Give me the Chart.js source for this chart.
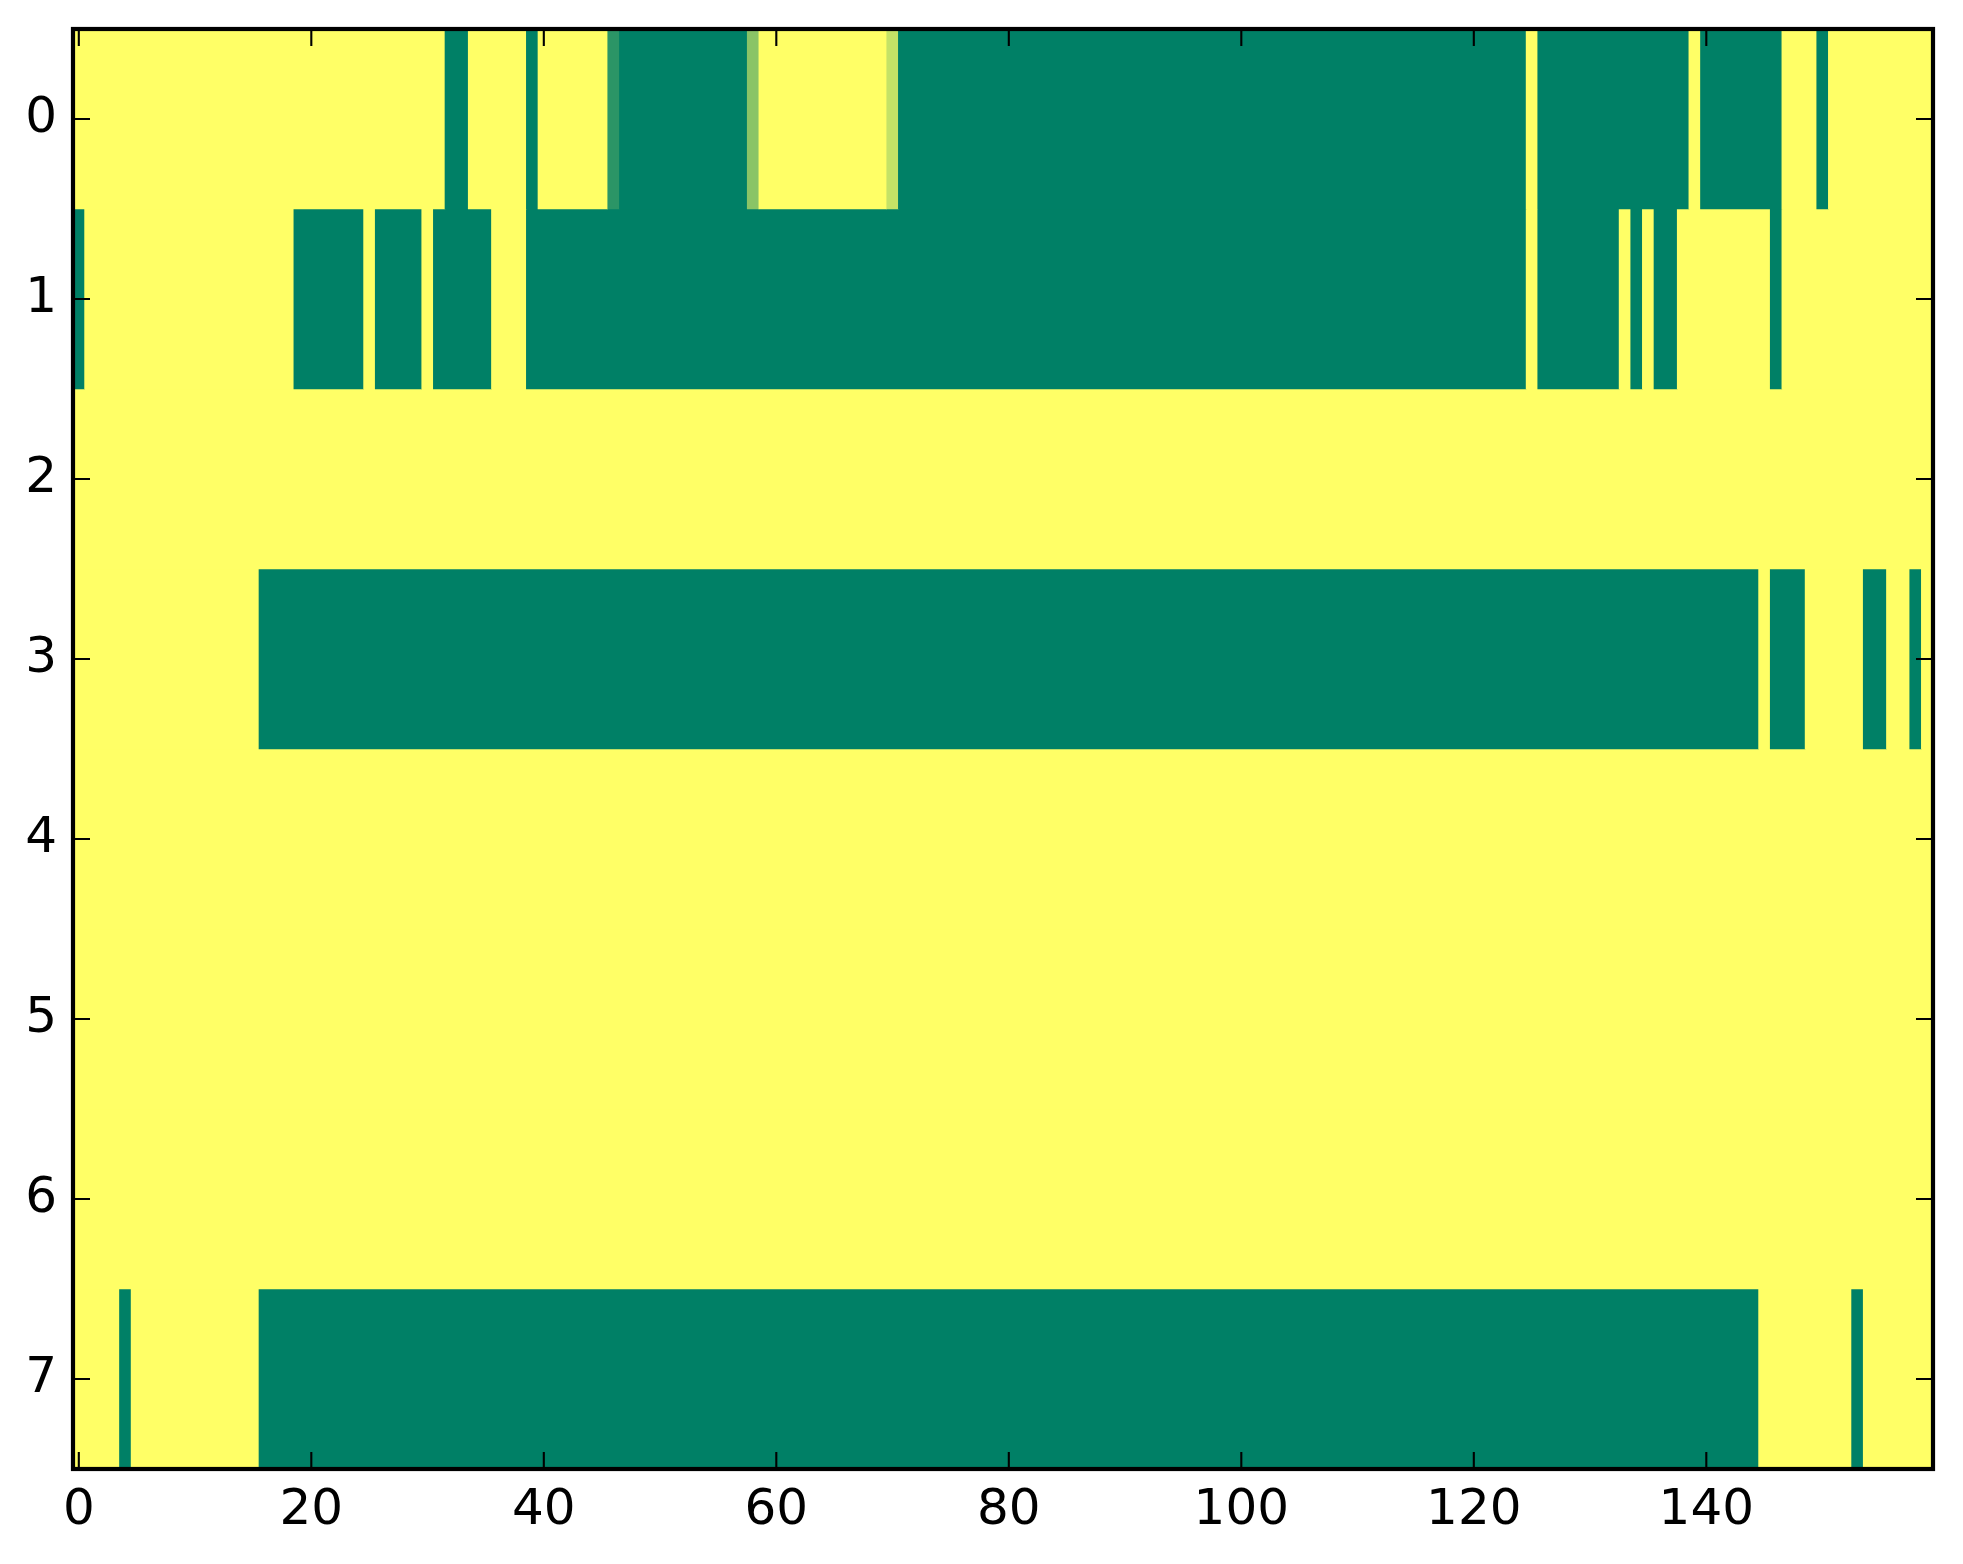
<!DOCTYPE html>
<html>
<head>
<meta charset="utf-8">
<script src="https://cdn.jsdelivr.net/npm/chart.js@4/dist/chart.umd.min.js"></script>
<style>
  body { margin: 0; background: #fff; }
  #wrap { width: 1963px; height: 1564px; position: relative; }
</style>
</head>
<body>
<div id="wrap"><canvas id="heat"></canvas></div>
<script>
// rows of the image, top to bottom
const rowLabels = ['0', '1', '2', '3', '4', '5', '6', '7'];
const xTicks = [0, 20, 40, 60, 80, 100, 120, 140];

// each row as runs: [first column, last column, value]
const row0 = [[0, 31, 1], [32, 33, 0], [34, 38, 1], [39, 39, 0], [40, 45, 1], [46, 46, 0.17],
    [47, 57, 0], [58, 58, 0.54], [59, 69, 1], [70, 70, 0.77], [71, 124, 0], [125, 125, 1],
    [126, 138, 0], [139, 139, 1], [140, 146, 0], [147, 149, 1], [150, 150, 0], [151, 159, 1]];
const row1 = [[0, 0, 0], [1, 18, 1], [19, 24, 0], [25, 25, 1], [26, 29, 0], [30, 30, 1],
    [31, 35, 0], [36, 38, 1], [39, 124, 0], [125, 125, 1], [126, 132, 0], [133, 133, 1],
    [134, 134, 0], [135, 135, 1], [136, 137, 0], [138, 145, 1], [146, 146, 0], [147, 159, 1]];
const row2 = [[0, 159, 1]];
const row3 = [[0, 15, 1], [16, 144, 0], [145, 145, 1], [146, 148, 0], [149, 153, 1],
    [154, 155, 0], [156, 157, 1], [158, 158, 0], [159, 159, 1]];
const row4 = [[0, 159, 1]];
const row5 = [[0, 159, 1]];
const row6 = [[0, 159, 1]];
const row7 = [[0, 3, 1], [4, 4, 0], [5, 15, 1], [16, 144, 0], [145, 152, 1], [153, 153, 0], [154, 159, 1]];

const rows = [row0, row1, row2, row3, row4, row5, row6, row7];

// matplotlib "summer" colormap
function summer(v) {
    return `rgb(${Math.round(v * 255)}, ${Math.round((0.5 + 0.5 * v) * 255)}, 102)`;
}

const datasets = rows.map((runs, i) => ({
    data: runs.map(r => ({ x: [r[0] - 0.5, r[1] + 0.5], y: rowLabels[i] })),
    backgroundColor: runs.map(r => summer(r[2])),
    borderWidth: 0,
    borderSkipped: false,
    grouped: false,
    barPercentage: 1,
    categoryPercentage: 1
}));

const font = { family: 'DejaVu Sans', size: 50 };

// inward ticks on all four sides plus the axes frame
const framePlugin = {
    id: 'frame',
    beforeDatasetsDraw(chart) {
        const { ctx, chartArea: a } = chart;
        ctx.save();
        ctx.fillStyle = summer(1);
        ctx.fillRect(a.left, a.top, a.width, a.height);
        ctx.restore();
    },
    afterDraw(chart) {
        const { ctx, chartArea: a, scales } = chart;
        const len = 17;
        ctx.save();
        ctx.strokeStyle = '#000';
        ctx.lineWidth = 2.1;
        ctx.beginPath();
        xTicks.forEach(v => {
            const px = scales.x.getPixelForValue(v);
            ctx.moveTo(px, a.bottom); ctx.lineTo(px, a.bottom - len);
            ctx.moveTo(px, a.top); ctx.lineTo(px, a.top + len);
        });
        rowLabels.forEach((lab, i) => {
            const py = scales.y.getPixelForTick(i);
            ctx.moveTo(a.left, py); ctx.lineTo(a.left + len, py);
            ctx.moveTo(a.right, py); ctx.lineTo(a.right - len, py);
        });
        ctx.stroke();
        ctx.lineWidth = 4.2;
        ctx.strokeRect(a.left, a.top, a.width, a.height);
        ctx.restore();
    }
};

new Chart(document.getElementById('heat'), {
    type: 'bar',
    data: { labels: rowLabels, datasets: datasets },
    options: {
        indexAxis: 'y',
        responsive: true,
        maintainAspectRatio: false,
        devicePixelRatio: 1,
        animation: false,
        layout: { padding: { top: 29, right: 30, left: 0, bottom: 0 } },
        plugins: { legend: { display: false }, tooltip: { enabled: false } },
        scales: {
            x: {
                type: 'linear',
                min: -0.5,
                max: 159.5,
                afterBuildTicks: s => { s.ticks = xTicks.map(v => ({ value: v })); },
                afterFit: s => { s.height = 95; s.paddingLeft = 0; s.paddingRight = 0; },
                grid: { display: false, drawTicks: false },
                border: { display: false },
                ticks: { font: font, color: '#000', padding: 12, maxRotation: 0, autoSkip: false }
            },
            y: {
                type: 'category',
                offset: true,
                afterFit: s => { s.width = 73; s.paddingTop = 0; s.paddingBottom = 0; },
                grid: { display: false, drawTicks: false },
                border: { display: false },
                ticks: { font: font, color: '#000', padding: 16 }
            }
        }
    },
    plugins: [framePlugin]
});
</script>
</body>
</html>
